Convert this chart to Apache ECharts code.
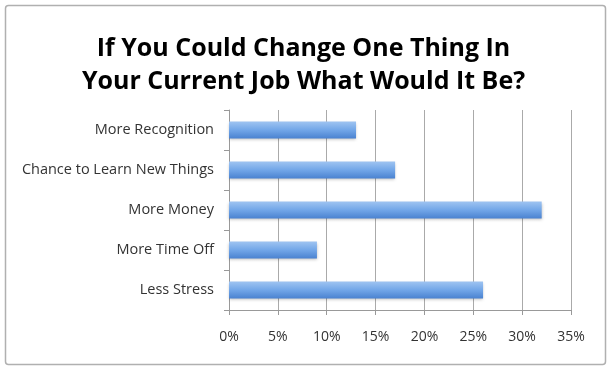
<!DOCTYPE html>
<html><head><meta charset="utf-8">
<script src="https://cdn.jsdelivr.net/npm/echarts@6/dist/echarts.min.js"></script>
<style>html,body{margin:0;padding:0;background:#fff}#c{width:607px;height:367px}</style>
</head><body><div id="c"></div>
<script>
const categories = ["Less Stress", "More Time Off", "More Money", "Chance to Learn New Things", "More Recognition"];
const values = [26, 9, 32, 17, 13];
const tickMin = 0, tickMax = 35, tickStep = 5;

const chart = echarts.init(document.getElementById('c'), null, {renderer: 'canvas'});
chart.setOption({
  animation: false,
  backgroundColor: '#fff',
  graphic: [{
    type: 'rect', left: 3, top: 3, shape: {width: 600, height: 359, r: 3},
    style: {fill: 'none', stroke: '#b0b0b0', lineWidth: 1.5}, z: -1
  }],
  title: {
    text: 'If You Could Change One Thing In\nYour Current Job What Would It Be?',
    left: 'center', top: 27,
    textStyle: {fontFamily: 'Open Sans', fontWeight: 'bold', fontSize: 25, lineHeight: 33, color: '#000'}
  },
  grid: {left: 229, right: 36, top: 110, bottom: 57},
  xAxis: {
    type: 'value', min: tickMin, max: tickMax, interval: tickStep,
    axisLabel: {formatter: '{value}%', fontFamily: 'Open Sans', fontSize: 14, color: '#333', margin: 20},
    axisLine: {show: true, lineStyle: {color: '#999'}},
    axisTick: {show: true, length: 5, lineStyle: {color: '#999'}},
    splitLine: {show: true, lineStyle: {color: '#aaa', width: 1}}
  },
  yAxis: {
    type: 'category', data: categories,
    axisLabel: {fontFamily: 'Open Sans', fontSize: 14.5, color: '#333', margin: 15},
    axisLine: {show: true, lineStyle: {color: '#999'}},
    axisTick: {show: true, length: 5, lineStyle: {color: '#999'}}
  },
  series: [{
    type: 'bar', data: values, barWidth: 17,
    itemStyle: {
      color: new echarts.graphic.LinearGradient(0, 0, 0, 1, [
        {offset: 0, color: '#9fc4f1'},
        {offset: 0.5, color: '#72a6e8'},
        {offset: 1, color: '#4a82d0'}
      ]),
      shadowColor: 'rgba(0,0,0,0.25)', shadowBlur: 3, shadowOffsetY: 1
    }
  }]
});
</script></body></html>
